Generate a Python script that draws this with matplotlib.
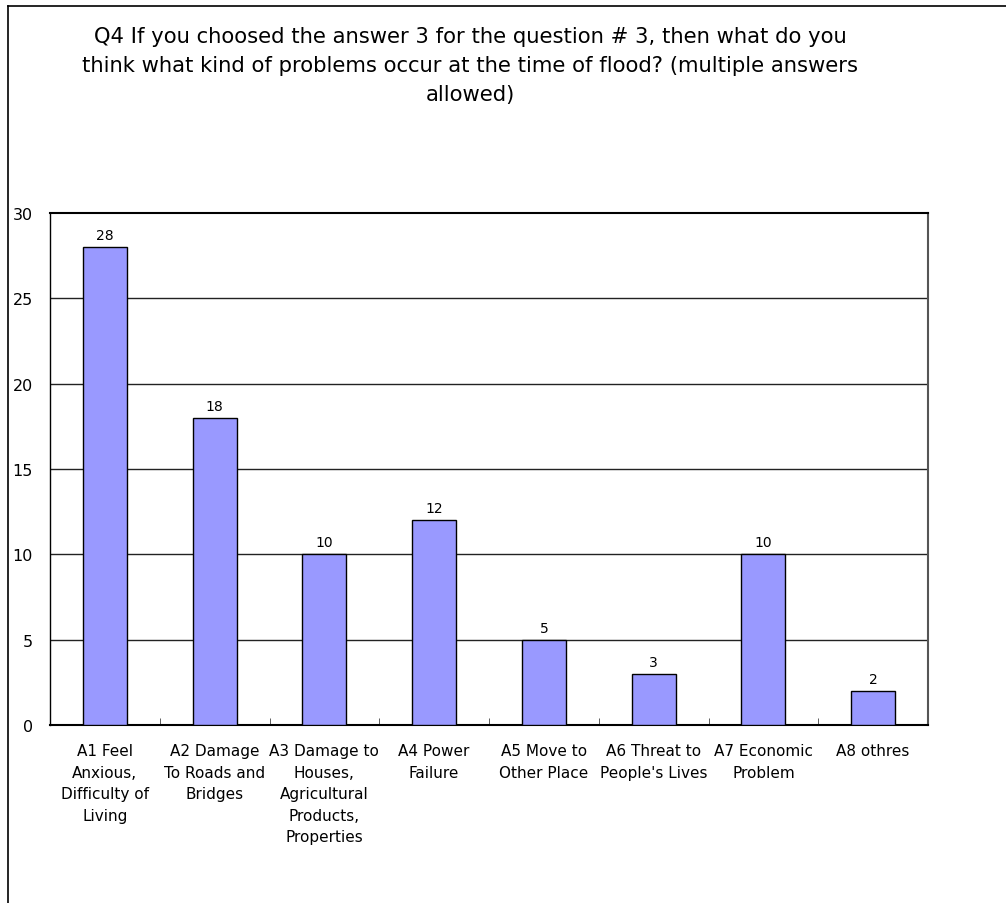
import matplotlib
matplotlib.use("Agg")
import matplotlib.pyplot as plt
from matplotlib.lines import Line2D

plt.rcParams['font.family'] = ['DejaVu Sans']

title_lines = [
    "Q4 If you choosed the answer 3 for the question # 3, then what do you",
    "think what kind of problems occur at the time of flood? (multiple answers",
    "allowed)",
]

categories = [
    "A1 Feel\nAnxious,\nDifficulty of\nLiving",
    "A2 Damage\nTo Roads and\nBridges",
    "A3 Damage to\nHouses,\nAgricultural\nProducts,\nProperties",
    "A4 Power\nFailure",
    "A5 Move to\nOther Place",
    "A6 Threat to\nPeople's Lives",
    "A7 Economic\nProblem",
    "A8 othres",
]
counts = [28, 18, 10, 12, 5, 3, 10, 2]
y_ticks = [0, 5, 10, 15, 20, 25, 30]

W, H = 1006, 904
PX = 72 / 100  # points per pixel at 100 dpi
fig = plt.figure(figsize=(W / 100, H / 100), dpi=100)

# plot area in pixel coordinates
left, right, top, bottom = 50, 928, 214, 726
ax = fig.add_axes([left / W, (H - bottom) / H, (right - left) / W, (bottom - top) / H])

x = list(range(len(counts)))
bars = ax.bar(x, counts, width=0.4, color="#9999FF", edgecolor="black", linewidth=1.0, zorder=3)

ax.set_xlim(-0.5, len(counts) - 0.5)
ax.set_ylim(0, 30)
ax.set_yticks(y_ticks)
ax.set_yticklabels([str(v) for v in y_ticks], fontsize=11.5)
for v in y_ticks[1:-1]:
    ax.axhline(v, color="#222222", linewidth=1.0, zorder=1)

# category labels below, boundary ticks pointing inward
ax.set_xticks(x)
ax.set_xticklabels(categories, fontsize=11, linespacing=1.55, va="top")
ax.tick_params(axis="x", length=0, pad=18 * PX)
ax.set_xticks([i + 0.5 for i in range(len(counts) - 1)], minor=True)
ax.tick_params(axis="x", which="minor", direction="in", length=5, color="#444444")
ax.tick_params(axis="y", length=0, pad=17 * PX)

for s in ax.spines.values():
    s.set_color("black")
    s.set_linewidth(1.0)
ax.spines["top"].set_linewidth(1.5)
ax.spines["bottom"].set_linewidth(1.5)
ax.spines["right"].set_color("#555555")
ax.spines["right"].set_linewidth(1.5)

for b, v in zip(bars, counts):
    ax.annotate(str(v), (b.get_x() + b.get_width() / 2, v), xytext=(0, 5 * PX),
                textcoords="offset points", ha="center", va="bottom", fontsize=10)

for i, line in enumerate(title_lines):
    fig.text(470 / W, 1 - (43 + 29 * i) / H, line, ha="center", va="baseline",
             fontsize=15.2)

# outer chart frame (left and top edges)
fig.add_artist(Line2D([8 / W, 8 / W], [0, 1 - 6.5 / H], transform=fig.transFigure,
                      color="black", linewidth=1.2))
fig.add_artist(Line2D([8 / W, 1], [1 - 6.5 / H, 1 - 6.5 / H], transform=fig.transFigure,
                      color="black", linewidth=1.2))

fig.savefig("out.png", dpi=100, facecolor="white")
